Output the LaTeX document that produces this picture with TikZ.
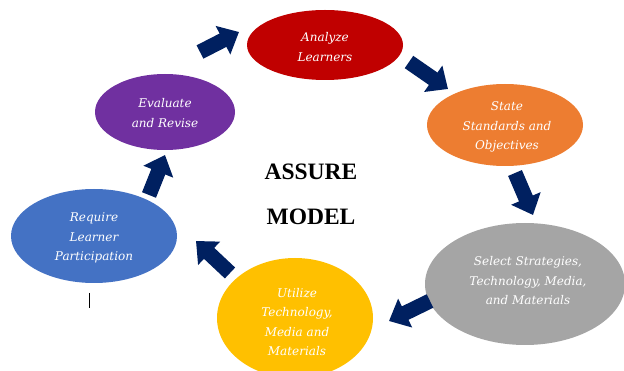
\documentclass[tikz,border=0pt]{standalone}
\usepackage{fontspec}
\setmainfont{Liberation Serif}
\newfontfamily\ellfont{DejaVu Serif}
\usetikzlibrary{shapes.geometric,arrows.meta}
\definecolor{cRed}{HTML}{C00000}
\definecolor{cOrange}{HTML}{ED7D31}
\definecolor{cGray}{HTML}{A5A5A5}
\definecolor{cGold}{HTML}{FFC000}
\definecolor{cBlue}{HTML}{4472C4}
\definecolor{cPurple}{HTML}{7030A0}
\definecolor{cNavy}{HTML}{002060}
\tikzset{
  ell/.style={ellipse, inner sep=0pt, outer sep=0pt},
  etxt/.style={text=white, align=center, inner sep=0pt,
    font=\ellfont\itshape\fontsize{12}{19.5}\selectfont},
  blk/.style={cNavy, line width=15pt, -{Triangle[width=31pt,length=18pt]}},
  title/.style={font=\bfseries\fontsize{23.5}{28}\selectfont, inner sep=0pt}
}
\begin{document}
\begin{tikzpicture}[x=1pt,y=-1pt]
\useasboundingbox (0,0) rectangle (624,371);
% ellipses
\node[ell, fill=cRed, minimum width=156pt, minimum height=70pt] (analyze) at (325,45) {};
\node[ell, fill=cOrange, minimum width=156pt, minimum height=82pt] (state) at (505,125) {};
\node[ell, fill=cGray, minimum width=200pt, minimum height=122pt] (select) at (525,284) {};
\node[ell, fill=cGold, minimum width=156pt, minimum height=120pt] (utilize) at (295,318) {};
\node[ell, fill=cBlue, minimum width=166pt, minimum height=94pt] (require) at (94,236) {};
\node[ell, fill=cPurple, minimum width=140pt, minimum height=76pt] (evaluate) at (165,112) {};
% texts
\node[etxt] (analyzet) at (325,47) {Analyze\\Learners};
\node[etxt] (statet) at (507,127) {State\\Standards and\\Objectives};
\node[etxt] (selectt) at (528,281) {Select Strategies,\\Technology, Media,\\and Materials};
\node[etxt] (utilizet) at (297,322) {Utilize\\Technology,\\Media and\\Materials};
\node[etxt] (requiret) at (94,238) {Require\\Learner\\Participation};
\node[etxt] (evaluatet) at (165,113) {Evaluate\\and Revise};
% title
\node[title] (assure) at (311,172) {ASSURE};
\node[title] (model) at (311,217) {MODEL};
% arrow end points
\coordinate (t1) at (200,52); \coordinate (h1) at (239,32);
\coordinate (t2) at (409,62); \coordinate (h2) at (448,89);
\coordinate (t3) at (515,173); \coordinate (h3) at (533,215);
\coordinate (t4) at (430,301); \coordinate (h4) at (389,321);
\coordinate (t5) at (230,273); \coordinate (h5) at (196,241);
\coordinate (t6) at (149,195); \coordinate (h6) at (165,155);
\draw[blk] (t1) -- (h1);
\draw[blk] (t2) -- (h2);
\draw[blk] (t3) -- (h3);
\draw[blk] (t4) -- (h4);
\draw[blk] (t5) -- (h5);
\draw[blk] (t6) -- (h6);
% cursor mark
\draw[line width=0.8pt] (89,293) -- (89,308);
\end{tikzpicture}
\end{document}
